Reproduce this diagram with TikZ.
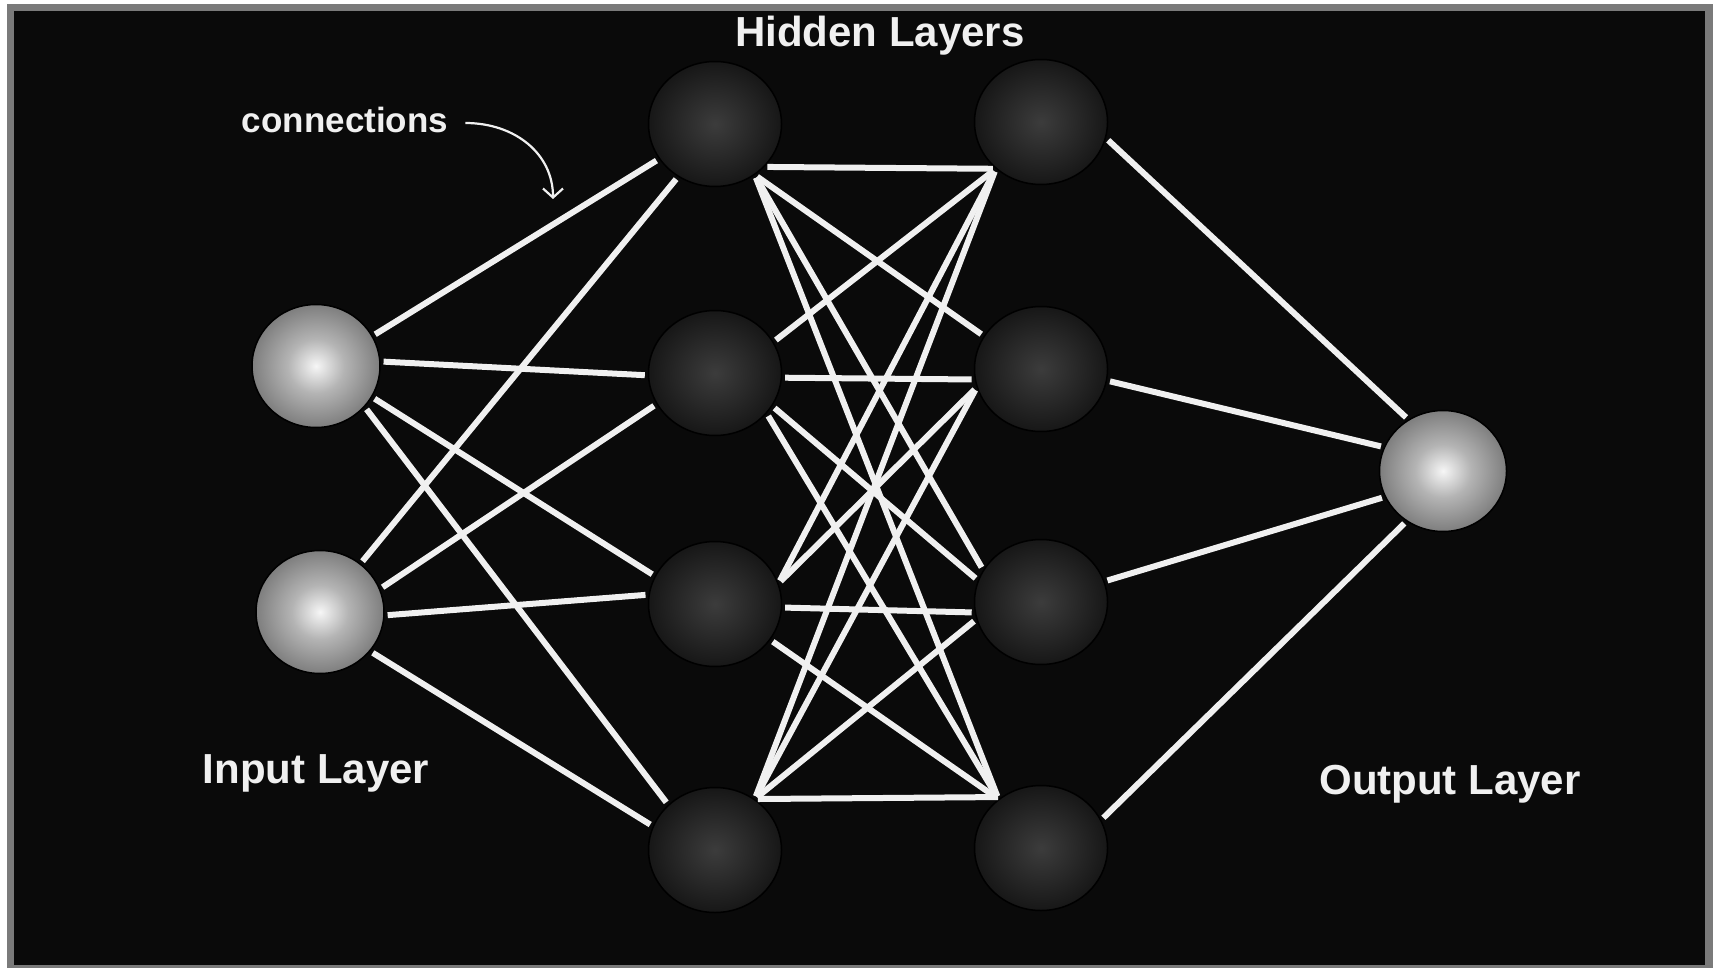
\documentclass[tikz,border=0pt]{standalone}
\usepackage{fontspec}
\setmainfont{Liberation Sans}
\usetikzlibrary{shapes.geometric,arrows.meta}

\definecolor{bgblack}{HTML}{0A0A0A}
\definecolor{framegray}{HTML}{7A7A7A}
\definecolor{wirewhite}{HTML}{F0F0F0}
\definecolor{litein}{HTML}{F6F6F6}
\definecolor{litemid}{HTML}{B4B4B4}
\definecolor{liteout}{HTML}{7E7E7E}
\definecolor{darkin}{HTML}{3C3C3C}
\definecolor{darkout}{HTML}{171717}

\pgfdeclareradialshading{litesphere}{\pgfpoint{0bp}{0bp}}{color(0bp)=(litein); color(11bp)=(litemid); color(25bp)=(liteout); color(50bp)=(liteout)}
\pgfdeclareradialshading{darksphere}{\pgfpoint{0bp}{0bp}}{color(0bp)=(darkin); color(25bp)=(darkout); color(50bp)=(darkout)}

\begin{document}
\begin{tikzpicture}[x=1pt,y=-1pt,
  unit/.style={ellipse,inner sep=0pt,minimum width=133pt,minimum height=125pt,draw=black,line width=1.5pt,shade},
  inunit/.style={unit,shading=litesphere,minimum width=128pt,minimum height=123pt},
  hidunit/.style={unit,shading=darksphere},
  wire/.style={draw=wirewhite,line width=6pt,shorten <=3pt,shorten >=3pt},
  layertext/.style={text=wirewhite,font=\bfseries\fontsize{42}{50}\selectfont,anchor=base,inner sep=0pt}]
  \useasboundingbox (0,0) rectangle (1713,968);
  \fill[white] (0,0) rectangle (1713,968);
  \fill[framegray] (7,4) rectangle (1713,968);
  \fill[bgblack] (14,11) rectangle (1705,965);

  \node[inunit] (i1) at (316,366) {};
  \node[inunit] (i2) at (320,612) {};
  \foreach \n/\ya/\yb in {a/124/122,b/373/369,c/604/602,d/850/848} {
    \node[hidunit] (h1\n) at (715,\ya) {};
    \node[hidunit] (h2\n) at (1041,\yb) {};
  }
  \node[inunit,minimum width=127pt,minimum height=121pt] (out) at (1443,471) {};

  \foreach \a/\b in {i1.28/h1a.212,i1.4/h1b.182,i1.-29/h1c.155,i1.-40/h1d.136,
                     i2.50/h1a.235,i2.21/h1b.208,i2.-3/h1c.172,i2.-38/h1d.159}
    \draw[wire] (\a) -- (\b);
  \foreach \a/\b in {h1a.-41/h2a.-134,h1a.-52/h2b.150,h1a.-52/h2c.151,h1a.-52/h2d.131,
                     h1b.28/h2a.-134,h1b.-4/h2b.189,h1b.-30/h2c.161,h1b.-38/h2d.131,
                     h1c.18/h2a.-134,h1c.18/h2b.196,h1c.-3/h2c.189,h1c.-33/h2d.131,
                     h1d.52/h2a.-134,h1d.52/h2b.196,h1d.52/h2c.195,h1d.52/h2d.128}
    \draw[wire] (\a) -- (\b);
  \foreach \a/\b in {h2a.-14/out.124,h2b.-10/out.158,h2c.18/out.204,h2d.25/out.234}
    \draw[wire] (\a) -- (\b);

  \node[layertext] (hidtxt) at (880,47) {Hidden Layers};
  \node[layertext] (intxt) at (316,783) {Input Layer};
  \node[layertext] (outtxt) at (1450,794) {Output Layer};
  \node[layertext,font=\bfseries\fontsize{35}{42}\selectfont] (conntxt) at (345,133) {connections};
  \coordinate (conntip) at (553,199);
  \draw[wirewhite,line width=2.2pt,-{Straight Barb[length=9pt,width=20pt]}]
    ([xshift=17pt,yshift=10pt]conntxt.base east) .. controls +(50,0) and +(0,-45) .. (conntip);
\end{tikzpicture}
\end{document}
